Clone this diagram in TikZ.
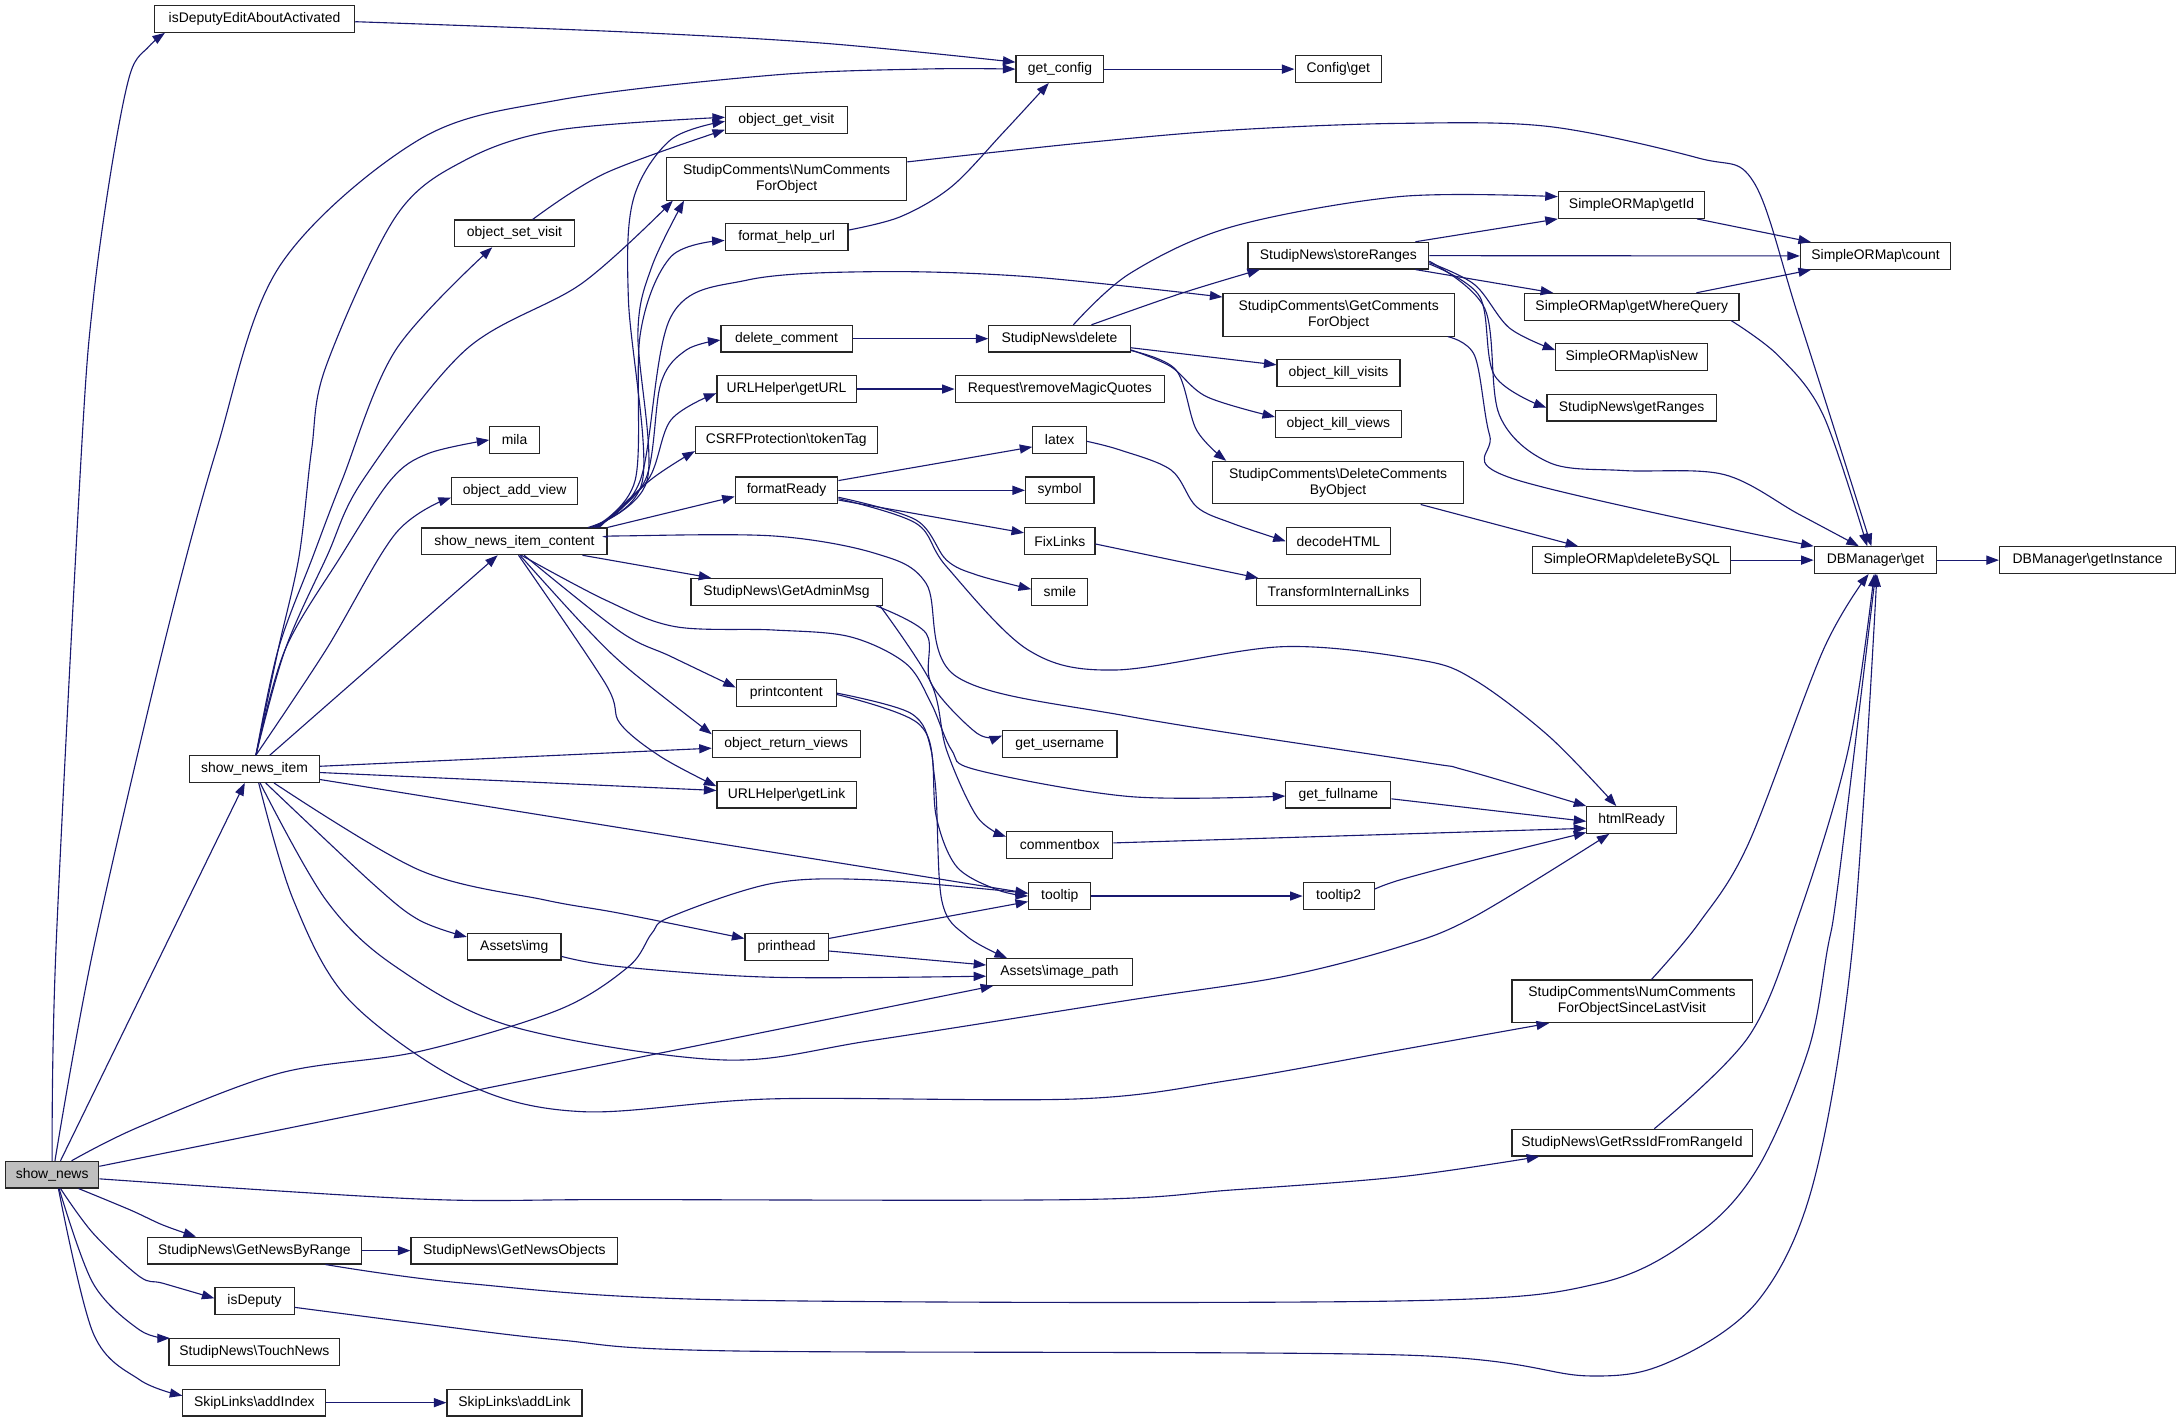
\documentclass[tikz,border=0pt]{standalone}
\usepackage{fontspec}
\setmainfont{Liberation Sans}
\usetikzlibrary{arrows.meta}
\definecolor{edgec}{HTML}{191970}
\definecolor{nodegray}{HTML}{BFBFBF}
\tikzset{
  box/.style={draw=black!85, fill=white, line width=0.8pt, inner sep=0pt, align=center,
    minimum height=19.2pt, font=\fontsize{10}{11.5}\selectfont},
  edg/.style={draw=edgec, line width=0.8pt, -{Triangle[length=9pt,width=6.5pt]}},
  sm/.style={smooth, tension=0.55}
}
\begin{document}
\begin{tikzpicture}[x=1pt,y=-1pt]
\fill[white] (0,0) rectangle (1568,1021.6);
\useasboundingbox (0,0) rectangle (1568,1021.6);
% nodes
\node[box,minimum width=67pt,fill=nodegray] (sn) at (37.5,844.5) {show\_news};
\node[box,minimum width=144pt] (idea) at (183,13.6) {isDeputyEditAboutActivated};
\node[box,minimum width=63.2pt] (gc) at (762,49.7) {get\_config};
\node[box,minimum width=62.3pt] (cg) at (962.2,49.7) {Config\textbackslash get};
\node[box,minimum width=87.4pt] (ogv) at (565.3,86.3) {object\_get\_visit};
\node[box,minimum width=172.7pt,minimum height=30.9pt] (ncfo) at (565.5,128.4) {StudipComments\textbackslash NumComments\\ForObject};
\node[box,minimum width=86.3pt] (osv) at (369.9,167.8) {object\_set\_visit};
\node[box,minimum width=88.3pt] (fhu) at (565.5,170.4) {format\_help\_url};
\node[box,minimum width=94.3pt] (dc) at (565.5,243.5) {delete\_comment};
\node[box,minimum width=101.6pt] (snd) at (761.7,243.5) {StudipNews\textbackslash delete};
\node[box,minimum width=100.1pt] (ugu) at (565.5,279.7) {URLHelper\textbackslash getURL};
\node[box,minimum width=150.4pt] (rrm) at (761.9,279.7) {Request\textbackslash removeMagicQuotes};
\node[box,minimum width=130.6pt] (csrf) at (565.3,316.3) {CSRFProtection\textbackslash tokenTag};
\node[box,minimum width=35.5pt] (mila) at (369.9,316.3) {mila};
\node[box,minimum width=90.8pt] (oav) at (370,352.8) {object\_add\_view};
\node[box,minimum width=133.2pt] (snic) at (369.8,389.2) {show\_news\_item\_content};
\node[box,minimum width=73.8pt] (fr) at (565.5,352.5) {formatReady};
\node[box,minimum width=38.5pt] (latex) at (761.8,316.3) {latex};
\node[box,minimum width=49.2pt] (symbol) at (761.9,352.5) {symbol};
\node[box,minimum width=50.6pt] (fl) at (761.9,389.1) {FixLinks};
\node[box,minimum width=40.4pt] (smile) at (761.9,425.6) {smile};
\node[box,minimum width=74.9pt] (dh) at (962.2,389.1) {decodeHTML};
\node[box,minimum width=118.4pt] (til) at (962.3,425.6) {TransformInternalLinks};
\node[box,minimum width=137.5pt] (gam) at (565.5,425.5) {StudipNews\textbackslash GetAdminMsg};
\node[box,minimum width=71.9pt] (pc) at (565.3,498.3) {printcontent};
\node[box,minimum width=82.2pt] (gu) at (761.9,534.9) {get\_username};
\node[box,minimum width=106.4pt] (orv) at (565.3,534.9) {object\_return\_views};
\node[box,minimum width=100.1pt] (ugl) at (565.5,571.3) {URLHelper\textbackslash getLink};
\node[box,minimum width=75.5pt] (gf) at (962.2,571.3) {get\_fullname};
\node[box,minimum width=76.4pt] (cb) at (761.9,607.5) {commentbox};
\node[box,minimum width=44.8pt] (tt) at (761.9,644.2) {tooltip};
\node[box,minimum width=51pt] (tt2) at (962.4,644.2) {tooltip2};
\node[box,minimum width=64.4pt] (hr) at (1173,589.5) {htmlReady};
\node[box,minimum width=93.1pt] (sni) at (183,552.9) {show\_news\_item};
\node[box,minimum width=67.3pt] (aimg) at (369.7,680.6) {Assets\textbackslash img};
\node[box,minimum width=59.8pt] (ph) at (565.5,680.7) {printhead};
\node[box,minimum width=104.6pt] (aip) at (761.7,698.8) {Assets\textbackslash image\_path};
\node[box,minimum width=172.6pt,minimum height=30.7pt] (ncslv) at (1173.3,719.9) {StudipComments\textbackslash NumComments\\ForObjectSinceLastVisit};
\node[box,minimum width=172.6pt] (grid) at (1173.3,821.5) {StudipNews\textbackslash GetRssIdFromRangeId};
\node[box,minimum width=154.2pt] (gnbr) at (182.9,899.1) {StudipNews\textbackslash GetNewsByRange};
\node[box,minimum width=148.6pt] (gno) at (369.8,899.1) {StudipNews\textbackslash GetNewsObjects};
\node[box,minimum width=56.9pt] (isd) at (183,935.4) {isDeputy};
\node[box,minimum width=122.8pt] (tn) at (182.9,972) {StudipNews\textbackslash TouchNews};
\node[box,minimum width=102.8pt] (ai) at (182.9,1008.4) {SkipLinks\textbackslash addIndex};
\node[box,minimum width=97.1pt] (al) at (369.9,1008.4) {SkipLinks\textbackslash addLink};
\node[box,minimum width=130pt] (sr) at (962.2,183.8) {StudipNews\textbackslash storeRanges};
\node[box,minimum width=166.3pt,minimum height=30.7pt] (gcfo) at (962.4,226.3) {StudipComments\textbackslash GetComments\\ForObject};
\node[box,minimum width=88.4pt] (okvi) at (962.3,268.3) {object\_kill\_visits};
\node[box,minimum width=90.3pt] (okv) at (962.2,304.8) {object\_kill\_views};
\node[box,minimum width=180pt,minimum height=30.6pt] (dcbo) at (962,347) {StudipComments\textbackslash DeleteComments\\ByObject};
\node[box,minimum width=105.3pt] (gid) at (1173,147.4) {SimpleORMap\textbackslash getId};
\node[box,minimum width=108.1pt] (cnt) at (1348.4,184) {SimpleORMap\textbackslash count};
\node[box,minimum width=154.2pt] (gwq) at (1173.1,220.5) {SimpleORMap\textbackslash getWhereQuery};
\node[box,minimum width=109.2pt] (isn) at (1173.1,256.7) {SimpleORMap\textbackslash isNew};
\node[box,minimum width=121.7pt] (grng) at (1173,293.1) {StudipNews\textbackslash getRanges};
\node[box,minimum width=142.2pt] (dbs) at (1173.1,402.7) {SimpleORMap\textbackslash deleteBySQL};
\node[box,minimum width=88.2pt] (dbg) at (1348.4,402.7) {DBManager\textbackslash get};
\node[box,minimum width=126.8pt] (dbi) at (1500.9,402.7) {DBManager\textbackslash getInstance};

% ---- edges from show_news
\draw[edg] plot[sm] coordinates {(sn.north) (40.2,683) (58.6,323.5) (67,215.7) (80.3,119.8) (93.7,52.7) (107,33.5) ([xshift=8]idea.south west)};
\draw[edg] plot[sm] coordinates {([xshift=2]sn.north) (67,683) (117,467) (155.6,323.5) (200.8,191.7) (301,100.6) (401.6,71.9) (555.7,54) (665.7,49.6) (gc.west)};
\draw[edg] ([xshift=6]sn.north) -- ([xshift=-7]sni.south);
\draw[edg] plot[sm] coordinates {([xshift=14]sn.north) (100.4,810) (200.8,771.6) (301.2,756) (401.6,726) (451.8,695) (468.6,671) (482.4,659) (555.7,635) (629,632.6) ([yshift=2]tt.west)};
\draw[edg] ([yshift=6]sn.east) -- ([xshift=5]aip.south west);
\draw[edg] plot[sm] coordinates {([yshift=-3]sn.east) (301.2,862) (445.7,862.4) (775.7,862.4) (885.8,855.5) (1007,846) ([xshift=20]grid.south west)};
\draw[edg] plot[sm] coordinates {([xshift=19]sn.south) (93.7,869.9) (117.1,880.7) ([xshift=-42]gnbr.north)};
\draw[edg] plot[sm] coordinates {([xshift=6]sn.south) (66.9,886.6) (100.4,917.8) (117.2,922.6) ([yshift=2]isd.west)};
\draw[edg] plot[sm] coordinates {([xshift=5]sn.south) (66.9,922.6) (100.4,956.2) ([xshift=1]tn.north west)};
\draw[edg] plot[sm] coordinates {([xshift=4.5]sn.south) (67,958.5) (100.4,992) ([yshift=5]ai.west)};

% ---- edges from show_news_item
\draw[edg] plot[sm] coordinates {([xshift=1]sni.north) (200,467) (215,400) (224,323.5) (234.3,263.6) (284.5,155.7) (334.7,115) (401.6,93.4) ([yshift=2]ogv.west)};
\draw[edg] plot[sm] coordinates {([xshift=1]sni.north) (205,467) (235,400) (261,345) (334.7,251.6) (418.4,203.7) ([xshift=5]ncfo.south west)};
\draw[edg] plot[sm] coordinates {([xshift=1]sni.north) (200,467) (225,400) (246,345) (284.5,251.6) ([xshift=-16]osv.south)};
\draw[edg] plot[sm] coordinates {([xshift=1]sni.north) (205,467) (245,400) (281,345) (308,326) (mila.west)};
\draw[edg] plot[sm] coordinates {([xshift=1]sni.north) (234.3,467.3) (284.5,383.4) ([yshift=-5]oav.west)};
\draw[edg] ([xshift=11]sni.north) -- ([xshift=-12]snic.south);
\draw[edg] ([yshift=2]sni.east) -- ([yshift=-3]orv.west);
\draw[edg] ([yshift=-2.5]sni.east) -- ([yshift=3]ugl.west);
\draw[edg] ([yshift=-7.5]sni.east) -- ([yshift=2]tt.west);
\draw[edg] plot[sm] coordinates {([xshift=14]sni.south) (301.2,625.4) (391.6,647) (445.7,656.6) ([yshift=6]ph.west)};
\draw[edg] plot[sm] coordinates {([xshift=8]sni.south) (267.7,635) (301.2,661.4) ([yshift=-3]aimg.north west)};
\draw[edg] plot[sm] coordinates {([xshift=4]sni.south) (234.3,647) (284.5,695) (368.2,738) (519,762) (629,747.7) (812.5,718.9) (922.6,702.1) (1006.5,680.6) (1060,659) ([xshift=-16]hr.south)};
\draw[edg] plot[sm] coordinates {([xshift=3]sni.south) (210.9,647) (251,718.9) (334.7,778.8) (418.4,799.2) (555.7,790) (775.7,790) (885.8,776.4) (1006.5,754.8) ([xshift=27]ncslv.south west)};

% ---- edges from show_news_item_content
\draw[edg] plot[sm] coordinates {([xshift=-14]snic.north east) (462,345) (451.8,215.7) (455.2,143.8) (482,100.6) ([yshift=-1]ogv.west)};
\draw[edg] plot[sm] coordinates {([xshift=-12]snic.north east) (465.3,345) (458.6,239.6) (468.6,191.7) ([xshift=13]ncfo.south west)};
\draw[edg] plot[sm] coordinates {([xshift=-10]snic.north east) (456.7,345) (460.4,239.6) (482.4,184.5) ([yshift=-2.5]fhu.west)};
\draw[edg] plot[sm] coordinates {([xshift=-9]snic.north east) (460.4,345) (482.4,227.6) (537.5,201.3) (629.1,195.3) (739.2,198.9) ([yshift=-3]gcfo.north west)};
\draw[edg] plot[sm] coordinates {([xshift=-8]snic.north east) (464,345) (475.1,275.6) (493.4,251.6) ([yshift=-1]dc.west)};
\draw[edg] plot[sm] coordinates {([xshift=-7]snic.north east) (465.9,345) (482.4,301.9) ([yshift=-3]ugu.west)};
\draw[edg] plot[sm] coordinates {([xshift=-6]snic.north east) (467.7,345) ([yshift=2]csrf.south west)};
\draw[edg] (snic.north east) -- ([yshift=-4.5]fr.west);
\draw[edg] ([xshift=-18]snic.south east) -- ([xshift=15]gam.north west);
\draw[edg] plot[sm] coordinates {([yshift=3]snic.east) (445.7,385.3) (555.7,385.3) (629.1,397.8) (665.8,419.4) (687.8,486.5) (812.5,515.2) (1020.9,547.6) (1053,553.6) (hr.north west)};
\draw[edg] plot[sm] coordinates {([xshift=5]snic.south) (435.1,431.3) (485.3,450.5) (555.7,452.9) (610.8,457.7) (651.1,476.9) (669.4,505.6) (684.1,539.2) (702.4,553.6) (812.5,572.7) ([yshift=-1]gf.west)};
\draw[edg] plot[sm] coordinates {([xshift=7]snic.south) (445.7,454) (482.4,472) ([yshift=4]pc.west)};
\draw[edg] plot[sm] coordinates {([xshift=4]snic.south) (420,450) (452,481) ([yshift=-3]orv.north west)};
\draw[edg] plot[sm] coordinates {([xshift=3]snic.south) (435.1,491.2) (445.7,520) (475,544) ([yshift=-4]ugl.north west)};

% ---- GetAdminMsg, printcontent, printhead, Assets
\draw[edg] plot[sm] coordinates {([xshift=-5]gam.south east) (665.8,455.3) (669.4,491.2) (702.4,527.2) ([yshift=6]gu.west)};
\draw[edg] plot[sm] coordinates {([xshift=-2]gam.south east) (669.4,491.2) (680.5,539.2) (702.4,587.1) ([yshift=6]cb.west)};
\draw[edg] plot[sm] coordinates {(pc.east) (654.8,512.8) (669.4,539.2) (673.1,587.1) (687.8,623.1) (717.2,639.8) (tt.west)};
\draw[edg] plot[sm] coordinates {([yshift=-1]pc.east) (660,520) (672,560) (677,647) (695,673) ([xshift=15]aip.north west)};
\draw[edg] ([yshift=6]ph.east) -- ([yshift=-4]tt.west);
\draw[edg] ([yshift=-3]ph.east) -- ([yshift=5]aip.west);
\draw[edg] plot[sm] coordinates {([yshift=-7]aimg.east) (445.7,695) (555.7,702.6) ([yshift=-3]aip.west)};

% ---- formatReady
\draw[edg] ([yshift=7]fr.east) -- ([yshift=-5]latex.west);
\draw[edg] (fr.east) -- (symbol.west);
\draw[edg] ([yshift=-7]fr.east) -- ([yshift=6]fl.west);
\draw[edg] plot[sm] coordinates {([yshift=-5]fr.east) (658.5,373.8) (680.4,402.6) (702.4,413.4) ([yshift=2]smile.west)};
\draw[edg] plot[sm] coordinates {([yshift=-6]fr.east) (658.5,376.2) (680.5,407.4) (739.2,467.3) (801.5,481.7) (922.6,464.9) (1020.9,474.5) (1060.2,488.9) (1113.9,529.6) ([xshift=-11]hr.north)};
\draw[edg] plot[sm] coordinates {([yshift=-1]latex.east) (805.2,323.5) (841.9,337.9) (860.2,364.3) (885.8,376.2) (dh.west)};
\draw[edg] ([yshift=-2]fl.east) -- ([xshift=2]til.north west);

% ---- tooltip, htmlReady
\draw[edg] (tt.east) -- (tt2.west);
\draw[edg] plot[sm] coordinates {([yshift=5]tt2.east) (1006.5,632.6) (1060,618.3) ([yshift=1]hr.south west)};
\draw[edg] ([yshift=1.5]cb.east) -- ([yshift=-6]hr.west);
\draw[edg] ([yshift=-3]gf.east) -- ([yshift=-1]hr.west);

% ---- top part
\draw[edg] plot[sm] coordinates {([yshift=-2]idea.east) (445.7,22.8) (592.5,31.1) ([yshift=5]gc.west)};
\draw[edg] (gc.east) -- (cg.west);
\draw[edg] plot[sm] coordinates {([xshift=13]osv.north) (435,124.6) ([yshift=-7]ogv.west)};
\draw[edg] plot[sm] coordinates {([yshift=5]fhu.east) (647.4,155.8) (684.1,134.2) (720.8,95.8) ([xshift=-8]gc.south)};
\draw[edg] (dc.east) -- (snd.west);
\draw[edg] (ugu.east) -- (rrm.west);

% ---- StudipNews\delete
\draw[edg] plot[sm] coordinates {([xshift=10]snd.north) (812.5,196.5) (885.8,163) (1006.5,141.3) ([yshift=6]gid.west)};
\draw[edg] plot[sm] coordinates {([xshift=23]snd.north) (849.2,210.9) ([xshift=9]sr.south west)};
\draw[edg] ([yshift=-6.5]snd.east) -- ([yshift=6]okvi.west);
\draw[edg] plot[sm] coordinates {([yshift=-8]snd.east) (841.8,263.6) (867.5,285.2) ([yshift=5]okv.west)};
\draw[edg] plot[sm] coordinates {([yshift=-8.5]snd.east) (845.5,266) (860.2,309.1) ([xshift=10]dcbo.north west)};

% ---- storeRanges
\draw[edg] ([xshift=-10]sr.north east) -- (gid.south west);
\draw[edg] (sr.east) -- (cnt.west);
\draw[edg] ([xshift=-10]sr.south east) -- ([xshift=21]gwq.north west);
\draw[edg] plot[sm] coordinates {([yshift=-5]sr.east) (1060.2,204.7) (1085.3,235.9) ([yshift=5]isn.west)};
\draw[edg] plot[sm] coordinates {([yshift=-6]sr.east) (1063.8,213.2) (1074.5,270) (grng.west)};
\draw[edg] plot[sm] coordinates {([yshift=-4]sr.east) (1067.4,221.7) (1078,298.5) (1113.9,332.6) (1167.5,338.3) (1239.2,341.1) (1292.9,369.5) ([xshift=-12]dbg.north)};
\draw[edg] plot[sm] coordinates {([xshift=-5]gcfo.south east) (1060.2,255.8) (1070.9,312.7) (1087,343.9) (dbg.north west)};
\draw[edg] ([xshift=-6]gid.south east) -- ([xshift=8]cnt.north west);
\draw[edg] ([xshift=-31]gwq.north east) -- ([xshift=8]cnt.south west);
\draw[edg] plot[sm] coordinates {([xshift=-6]gwq.south east) (1278.6,255.8) (1310.8,298.5) ([xshift=-6]dbg.north)};
\draw[edg] plot[sm] coordinates {([yshift=12]ncfo.east) (775.8,103) (885.8,93.5) (1006.5,88.7) (1113.9,91) (1221.3,113.7) (1260.7,130.8) (1292.9,227.4) ([xshift=-3]dbg.north)};
\draw[edg] ([xshift=-31]dcbo.south east) -- ([xshift=33]dbs.north west);
\draw[edg] (dbs.east) -- (dbg.west);
\draw[edg] (dbg.east) -- (dbi.west);

% ---- lower right into DBManager\get
\draw[edg] plot[sm] coordinates {([xshift=14]ncslv.north) (1221.3,663.8) (1257.1,606.3) (1310.8,467.3) ([xshift=-5]dbg.south)};
\draw[edg] plot[sm] coordinates {([xshift=16]grid.north) (1257.1,745.3) (1292.9,659) (1328.7,539.2) ([xshift=-1]dbg.south)};
\draw[edg] plot[sm] coordinates {([xshift=51]gnbr.south) (334.7,922.6) (524.8,934.6) (1006.5,935.3) (1149.7,922.6) (1221.3,886.6) (1264.3,838.7) (1300.1,754.8) (1313.7,683) (1321.5,635) (dbg.south)};
\draw[edg] plot[sm] coordinates {([yshift=-4.5]isd.east) (301.2,951.4) (401.6,963.3) (524.8,971.2) (1006.5,974.1) (1142.5,989.2) (1203.4,977.7) (1264.3,934.6) (1303.6,850.7) (1331.6,683) ([xshift=1]dbg.south)};

% ---- lower left
\draw[edg] (gnbr.east) -- (gno.west);
\draw[edg] (ai.east) -- (al.west);
\end{tikzpicture}
\end{document}
